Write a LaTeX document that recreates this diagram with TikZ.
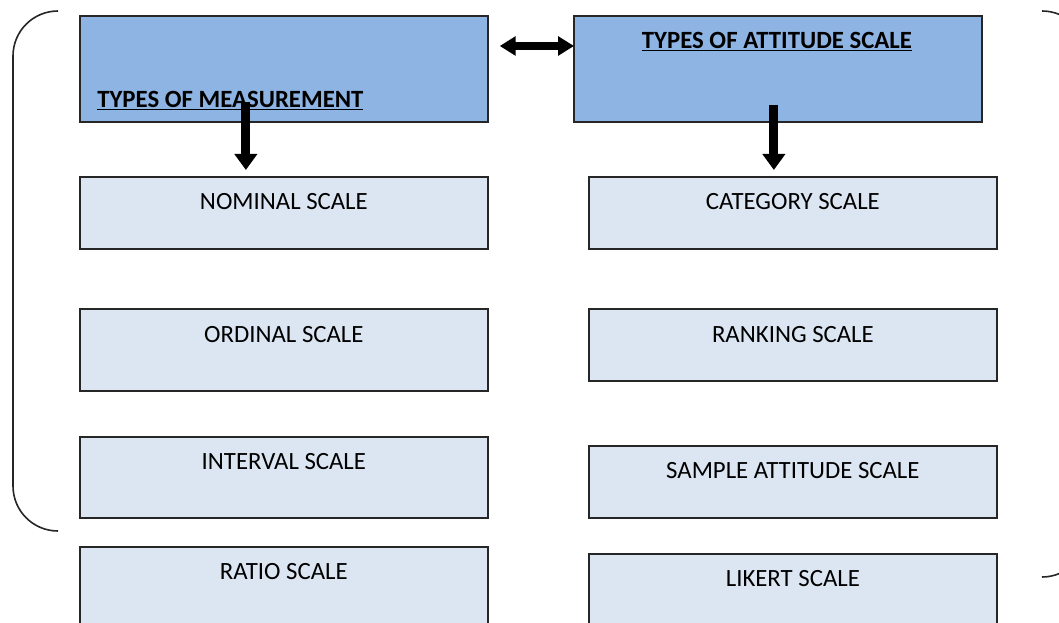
\documentclass[tikz,border=0pt]{standalone}
\usepackage{fontspec}
\setmainfont{Carlito}
\usetikzlibrary{arrows.meta,calc}
\definecolor{topfill}{HTML}{8EB4E3}
\definecolor{lowfill}{HTML}{DCE6F2}
\definecolor{edge}{HTML}{262626}
\tikzset{
  box/.style={draw=edge, line width=1.3pt, rectangle, inner sep=0pt, anchor=north west, minimum width=306pt},
  topbox/.style={box, fill=topfill, minimum height=79.5pt},
  lowbox/.style={box, fill=lowfill},
  lbl/.style={font=\fontsize{18.6pt}{22pt}\selectfont, inner sep=0pt, anchor=center},
  ttl/.style={font=\fontsize{18.6pt}{22pt}\selectfont\bfseries, inner sep=0pt},
  bigarrow/.style={line width=6.75pt, -{Triangle[width=16.5pt,length=12pt]}},
  dblarrow/.style={line width=6pt, {Triangle[width=14pt,length=12pt]}-{Triangle[width=14pt,length=12pt]}},
  bracket/.style={draw=black!85, line width=1.2pt}
}
\begin{document}
\begin{tikzpicture}[x=0.75pt,y=-0.75pt]
\useasboundingbox (0,0) rectangle (1059,623);
\begin{scope}
\clip (0,0) rectangle (1059,623);
% top boxes
\node[topbox] (m) at (79,15) {};
\node[topbox] (a) at (573,15) {};
\node[ttl, anchor=west] (mt) at (97,101) {\underline{TYPES OF MEASUREMENT}};
\node[ttl, anchor=center] (at) at (777,42) {\underline{TYPES OF ATTITUDE SCALE}};
% left column
\node[lowbox, minimum height=54pt] (nom) at (79,176) {};
\node[lowbox, minimum height=61.5pt] (ord) at (79,308) {};
\node[lowbox, minimum height=60.75pt] (int) at (79,436) {};
\node[lowbox, minimum height=75pt] (rat) at (79,546) {};
\node[lbl] (nomt) at ($(nom.north)+(0,26)$) {NOMINAL SCALE};
\node[lbl] (ordt) at ($(ord.north)+(0,27)$) {ORDINAL SCALE};
\node[lbl] (intt) at ($(int.north)+(0,26)$) {INTERVAL SCALE};
\node[lbl] (ratt) at ($(rat.north)+(0,26)$) {RATIO SCALE};
% right column
\node[lowbox, minimum height=54pt] (cat) at (588,176) {};
\node[lowbox, minimum height=54pt] (ran) at (588,308) {};
\node[lowbox, minimum height=54pt] (sam) at (588,445) {};
\node[lowbox, minimum height=75pt] (lik) at (588,553) {};
\node[lbl] (catt) at ($(cat.north)+(0,26)$) {CATEGORY SCALE};
\node[lbl] (rant) at ($(ran.north)+(0,27)$) {RANKING SCALE};
\node[lbl] (samt) at ($(sam.north)+(0,26)$) {SAMPLE ATTITUDE SCALE};
\node[lbl] (likt) at ($(lik.north)+(0,26)$) {LIKERT SCALE};
% arrows
\coordinate (d1s) at ($(m.south)+(-38,-21)$);
\coordinate (d1e) at ($(nom.north)+(-38,-6)$);
\draw[bigarrow] (d1s) -- (d1e);
\coordinate (d2s) at ($(a.south)+(-4,-18)$);
\coordinate (d2e) at ($(cat.north)+(-19,-6)$);
\draw[bigarrow] (d2s) -- (d2e);
\coordinate (h1) at ($(m.north east)+(11,31)$);
\coordinate (h2) at ($(a.north west)+(1,31)$);
\draw[dblarrow] (h1) -- (h2);
% brackets
\coordinate (lb1) at (58,11);
\coordinate (lb2) at (58,531);
\draw[bracket] (lb1) arc[start angle=270, end angle=180, radius=45] -- (13,486) arc[start angle=180, end angle=90, radius=45];
\coordinate (rb1) at (1042,11);
\coordinate (rb2) at (1042,577);
\draw[bracket] (rb1) arc[start angle=270, end angle=360, radius=45];
\draw[bracket] (rb2) arc[start angle=90, end angle=0, radius=45];
\end{scope}
\end{tikzpicture}
\end{document}
